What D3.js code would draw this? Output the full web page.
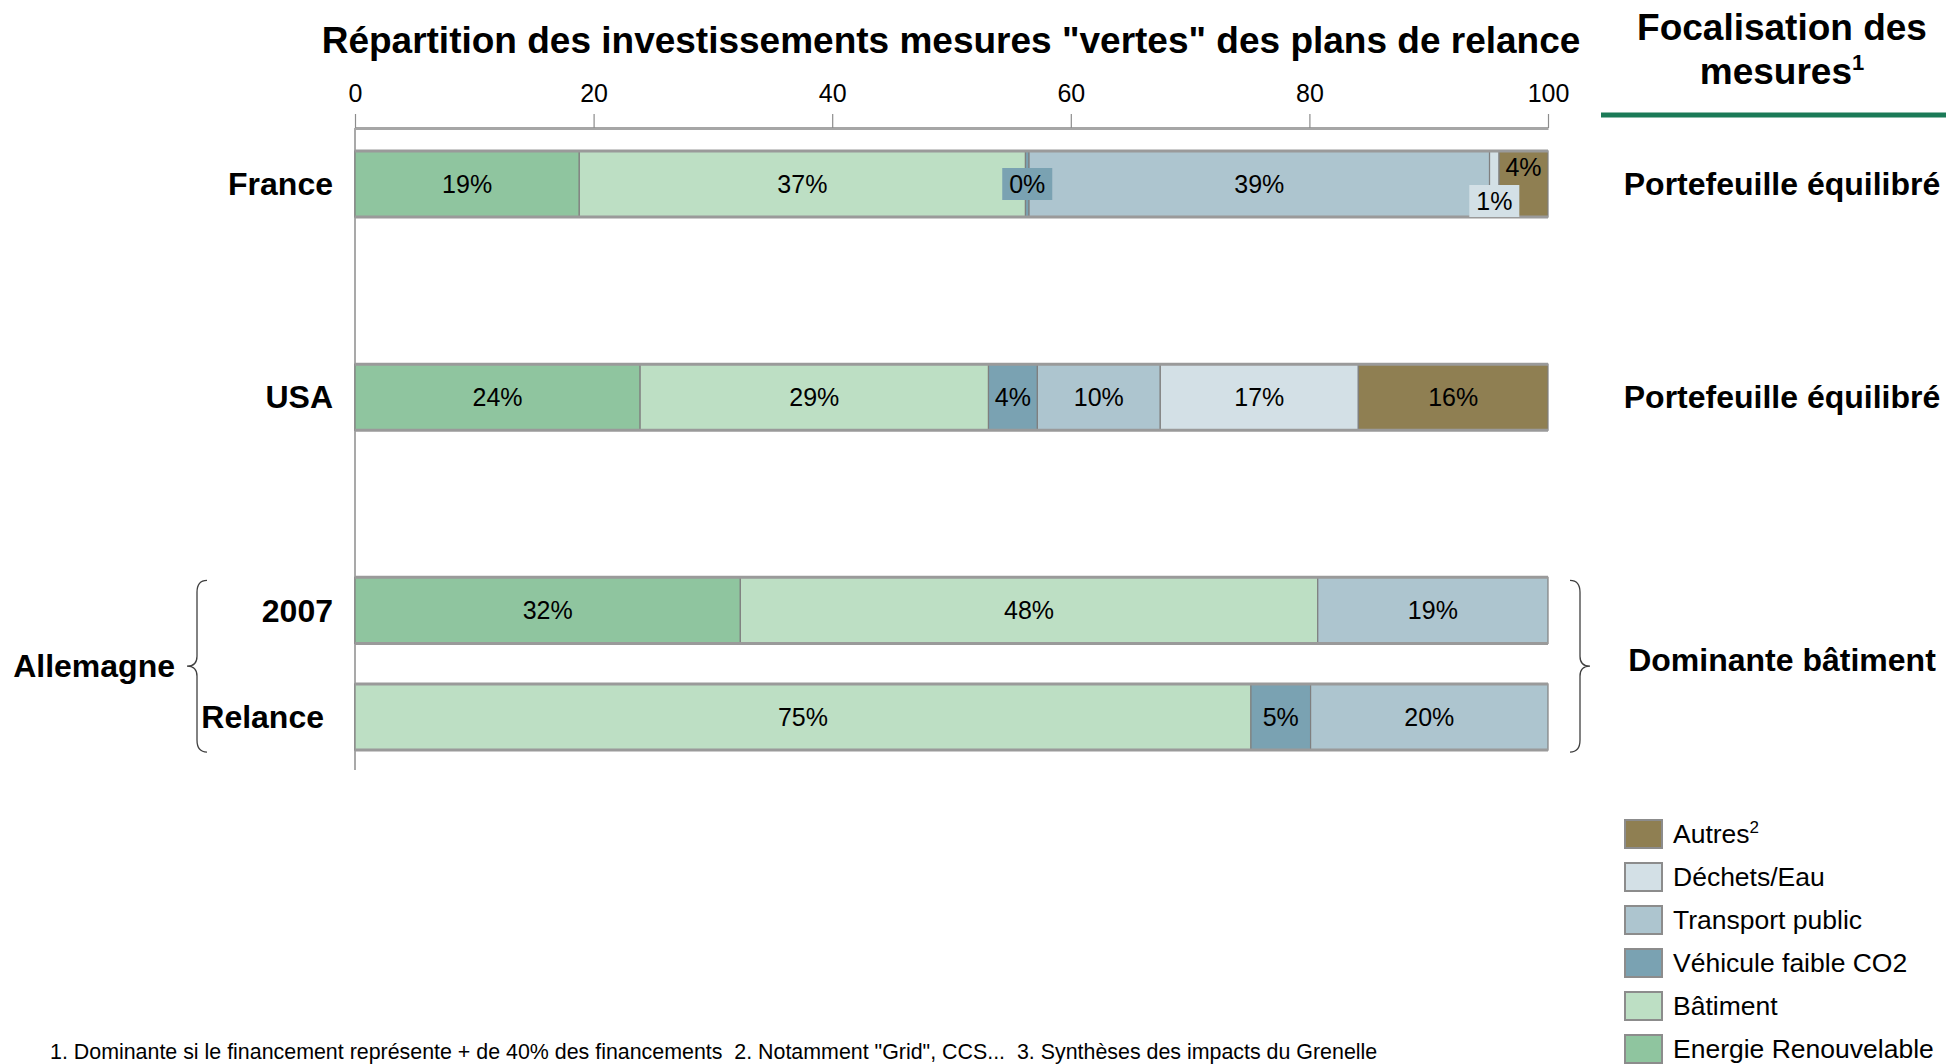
<!DOCTYPE html>
<html lang="fr">
<head>
    <meta charset="UTF-8">
    <script src="https://d3js.org/d3.v7.min.js"></script>
    <style>
        body {margin: 0; background: #fff;}
        svg {display: block; font-family: "Liberation Sans", Arial, sans-serif;}
        .pre {white-space: pre;}
    </style>
</head>
<body>
<svg class="chart"></svg>
<script type="text/javascript">
    // rows of the chart ("gap" rows only keep the spacing between countries)
    let rows = ['France', 'gap1', 'USA', 'gap2', '2007', 'Relance'];
    let categories = ['France', 'USA', '2007', 'Relance'];
    let seriesNames = ['Energie Renouvelable', 'Bâtiment', 'Véhicule faible CO2', 'Transport public', 'Déchets/Eau', 'Autres'];
    let seriesColors = ['#8fc59f', '#bddfc4', '#7aa2b2', '#adc5cf', '#d3e0e6', '#8f7f52'];

    let energie = [18.8, 23.9, 32.3, 0];
    let batiment = [37.4, 29.2, 48.4, 75.1];
    let vehicule = [0.3, 4.1, 0, 5.0];
    let transport = [38.6, 10.3, 19.3, 19.9];
    let dechets = [0.8, 16.6, 0, 0];
    let autres = [4.1, 15.9, 0, 0];

    let xTicks = [0, 20, 40, 60, 80, 100];
    let focus = ['Portefeuille équilibré', 'Portefeuille équilibré', 'Dominante bâtiment'];
    let footnote = '1. Dominante si le financement représente + de 40% des financements  2. Notamment "Grid", CCS...  3. Synthèses des impacts du Grenelle';

    let width = 1946, height = 1064;
    let svg = d3.select('.chart').attr('width', width).attr('height', height);

    let x = d3.scaleLinear().domain([0, 100]).range([355, 1548]);
    let y = d3.scaleBand().domain(rows).range([130.7, 770.3]).paddingInner(0.38).paddingOuter(0.19);

    let allSeries = [energie, batiment, vehicule, transport, dechets, autres];
    let table = categories.map((c, i) => {
        let row = {cat: c};
        seriesNames.forEach((s, j) => row[s] = allSeries[j][i]);
        return row;
    });
    let stacked = d3.stack().keys(seriesNames)(table);

    // title
    svg.append('text').attr('x', 951).attr('y', 53).attr('text-anchor', 'middle')
        .attr('font-size', 37).attr('font-weight', 'bold')
        .text('Répartition des investissements mesures "vertes" des plans de relance');

    // vertical line
    svg.append('line').attr('x1', x(0)).attr('x2', x(0)).attr('y1', 128).attr('y2', 770)
        .attr('stroke', '#8c8c8c').attr('stroke-width', 1.5);

    // top axis
    let axis = svg.append('g').attr('transform', 'translate(0,128)')
        .call(d3.axisTop(x).tickValues(xTicks).tickSize(14).tickSizeOuter(0).tickPadding(12));
    axis.select('.domain').attr('stroke', '#a6a6a6').attr('stroke-width', 3);
    axis.selectAll('.tick line').attr('stroke', '#8c8c8c').attr('stroke-width', 1.2);
    axis.selectAll('.tick text').attr('font-size', 25).attr('fill', '#000')
        .attr('font-family', '"Liberation Sans", Arial, sans-serif');

    // bars
    let groups = svg.selectAll('g.series').data(stacked).enter().append('g')
        .attr('class', 'series').attr('fill', (d, i) => seriesColors[i]);
    groups.selectAll('rect').data(d => d.filter(p => p[1] - p[0] > 0)).enter().append('rect')
        .attr('x', d => x(d[0]))
        .attr('width', d => x(d[1]) - x(d[0]))
        .attr('y', d => y(d.data.cat))
        .attr('height', y.bandwidth())
        .attr('stroke', '#7f7f7f').attr('stroke-width', 1.2);

    // top / bottom edges of each bar
    categories.forEach(c => {
        [y(c), y(c) + y.bandwidth()].forEach(yy => {
            svg.append('line').attr('x1', x(0)).attr('x2', x(100)).attr('y1', yy).attr('y2', yy)
                .attr('stroke', '#9a9a9a').attr('stroke-width', 3);
        });
    });

    // value labels
    stacked.forEach((s, si) => {
        s.forEach(p => {
            let v = p[1] - p[0];
            if (v <= 0) return;
            let cx = (x(p[0]) + x(p[1])) / 2;
            let cy = y(p.data.cat) + y.bandwidth() / 2;
            let label = Math.round(v) + '%';
            let boxed = v < 1;
            if (boxed && si === 4) cy += 17;
            if (p.data.cat === 'France' && si === 5) cy -= 17;
            if (boxed) {
                svg.append('rect').attr('x', cx - 25).attr('y', cy - 16).attr('width', 50).attr('height', 32)
                    .attr('fill', seriesColors[si]);
            }
            svg.append('text').attr('x', cx).attr('y', cy).attr('dy', '0.35em')
                .attr('text-anchor', 'middle').attr('font-size', 25).text(label);
        });
    });

    // category labels
    let leftLabels = {France: 333, USA: 333, '2007': 333, Relance: 324};
    categories.forEach(c => {
        svg.append('text').attr('x', leftLabels[c]).attr('y', y(c) + y.bandwidth() / 2).attr('dy', '0.35em')
            .attr('text-anchor', 'end').attr('font-size', 32).attr('font-weight', 'bold').text(c);
    });

    // braces around Allemagne
    let gTop = y('2007') + 3, gBot = y('Relance') + y.bandwidth() + 2;
    let gMid = (gTop + gBot) / 2;
    function brace(xb, dir) {
        let d = `M${xb + 10 * dir},${gTop} Q${xb},${gTop} ${xb},${gTop + 12} L${xb},${gMid - 10} Q${xb},${gMid} ${xb - 10 * dir},${gMid}` +
            ` Q${xb},${gMid} ${xb},${gMid + 10} L${xb},${gBot - 12} Q${xb},${gBot} ${xb + 10 * dir},${gBot}`;
        svg.append('path').attr('d', d).attr('fill', 'none').attr('stroke', '#404040').attr('stroke-width', 1.3);
    }
    brace(197, 1);
    brace(1580, -1);
    svg.append('text').attr('x', 175).attr('y', gMid).attr('dy', '0.35em').attr('text-anchor', 'end')
        .attr('font-size', 32).attr('font-weight', 'bold').text('Allemagne');

    // right column
    let rx = 1782;
    let head = svg.append('text').attr('x', rx).attr('text-anchor', 'middle')
        .attr('font-size', 37).attr('font-weight', 'bold');
    head.append('tspan').attr('x', rx).attr('y', 40).text('Focalisation des');
    head.append('tspan').attr('x', rx).attr('y', 84).text('mesures');
    head.append('tspan').attr('dy', -14).attr('font-size', 22).text('1');
    svg.append('line').attr('x1', 1601).attr('x2', width).attr('y1', 115).attr('y2', 115)
        .attr('stroke', '#1b7a57').attr('stroke-width', 5);

    let focusY = [y('France') + y.bandwidth() / 2, y('USA') + y.bandwidth() / 2, gMid - 6];
    focus.forEach((f, i) => {
        svg.append('text').attr('x', rx).attr('y', focusY[i]).attr('dy', '0.35em').attr('text-anchor', 'middle')
            .attr('font-size', 32).attr('font-weight', 'bold').text(f);
    });

    // legend (reversed order)
    let legendY = d3.scalePoint().domain(seriesNames.slice().reverse()).range([834, 1049]);
    seriesNames.forEach((s, i) => {
        let g = svg.append('g').attr('transform', `translate(1625,${legendY(s)})`);
        g.append('rect').attr('x', 0).attr('y', -14).attr('width', 37).attr('height', 28)
            .attr('fill', seriesColors[i]).attr('stroke', '#8c8c8c').attr('stroke-width', 2);
        let t = g.append('text').attr('x', 48).attr('y', 0).attr('dy', '0.35em').attr('font-size', 26.5).text(s);
        if (s === 'Autres') t.append('tspan').attr('dy', -10).attr('font-size', 17).text('2');
    });

    // footnote
    svg.append('text').attr('class', 'pre').attr('x', 50).attr('y', 1059).attr('font-size', 21.4).text(footnote);
</script>
</body>
</html>
